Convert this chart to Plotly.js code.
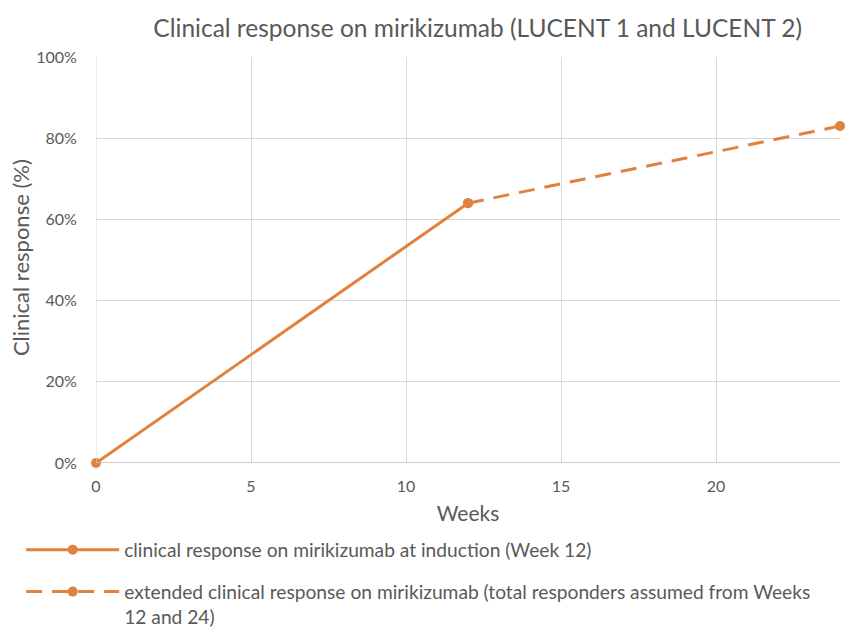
<!DOCTYPE html>
<html><head><meta charset="utf-8">
<script src="https://cdn.plot.ly/plotly-3.0.1.min.js"></script>
<style>body{margin:0;background:#fff}#c{width:847px;height:628px}</style>
</head><body><div id="c"></div>
<script>
const inductionWeeks = [0, 12];
const inductionResponse = [0, 64];
const extendedWeeks = [12, 24];
const extendedResponse = [64, 83];
const xTicks = [0, 5, 10, 15, 20];
const yTicks = [0, 20, 40, 60, 80, 100];
const yTickLabels = ['0%', '20%', '40%', '60%', '80%', '100%'];
const seriesNames = [
  'clinical response on mirikizumab at induction (Week 12)',
  'extended clinical response on mirikizumab (total responders assumed from Weeks<br>12 and 24)'
];
const yTitle = 'Clinical response (%)';
const orange = '#E0823D';
const grey = '#595959';
const fontFam = 'Lato, "Open Sans", sans-serif';

const traces = [
  {x: inductionWeeks, y: inductionResponse, type: 'scatter', mode: 'lines+markers', legendgroup: 'a',
   name: seriesNames[0], line: {color: orange, width: 3}, marker: {color: orange, size: 10}, cliponaxis: false},
  {x: extendedWeeks, y: extendedResponse, type: 'scatter', mode: 'lines+markers', legendgroup: 'b',
   name: seriesNames[1], line: {color: orange, width: 3, dash: '16px,10px'}, marker: {color: orange, size: 10}, cliponaxis: false}
];

const layout = {
  width: 847, height: 628,
  margin: {l: 96, r: 7, t: 57, b: 165, autoexpand: false},
  paper_bgcolor: '#fff', plot_bgcolor: '#fff',
  font: {family: fontFam, color: grey, size: 14},
  title: {text: 'Clinical response on mirikizumab (LUCENT 1 and LUCENT 2)', font: {size: 24.5, color: grey, family: fontFam},
    xref: 'paper', x: 0.513, xanchor: 'center', yref: 'container', y: 0.955, yanchor: 'middle'},
  xaxis: {range: [0, 24], tickvals: xTicks, ticktext: xTicks.map(String), showgrid: true, gridcolor: '#D9D9D9', gridwidth: 1,
    zeroline: false, showline: false, ticks: 'outside', ticklen: 9, tickcolor: 'rgba(0,0,0,0)', tickfont: {size: 16, color: grey},
    title: {text: 'Weeks', font: {size: 21, color: grey}, standoff: 12}},
  yaxis: {range: [0, 100], tickvals: yTicks, ticktext: yTickLabels, showgrid: true, gridcolor: '#D9D9D9', gridwidth: 1,
    zeroline: false, showline: false, ticks: 'outside', ticklen: 15, tickcolor: 'rgba(0,0,0,0)', tickfont: {size: 16, color: grey}},
  annotations: [
    {text: yTitle, xref: 'paper', yref: 'paper', x: -0.1022, y: 0.507, xanchor: 'center', yanchor: 'middle',
     textangle: -90, showarrow: false, font: {size: 22, color: grey}}
  ],
  shapes: [
    {type: 'line', xref: 'paper', yref: 'y', x0: 0, x1: 1, y0: 0, y1: 0, line: {color: '#BFBFBF', width: 1.5}},
    {type: 'line', xref: 'x', yref: 'paper', x0: 0, x1: 0, y0: 0, y1: 1, line: {color: '#D9D9D9', width: 1}}
  ],
  showlegend: true,
  legend: {xref: 'container', yref: 'container', x: 0.025, y: 0.155, xanchor: 'left', yanchor: 'top', valign: 'top',
    orientation: 'v', font: {size: 19.2, color: grey}, itemwidth: 93, tracegroupgap: 14, bgcolor: 'rgba(0,0,0,0)'}
};

Plotly.newPlot('c', traces, layout, {displayModeBar: false, responsive: false});
</script></body></html>
